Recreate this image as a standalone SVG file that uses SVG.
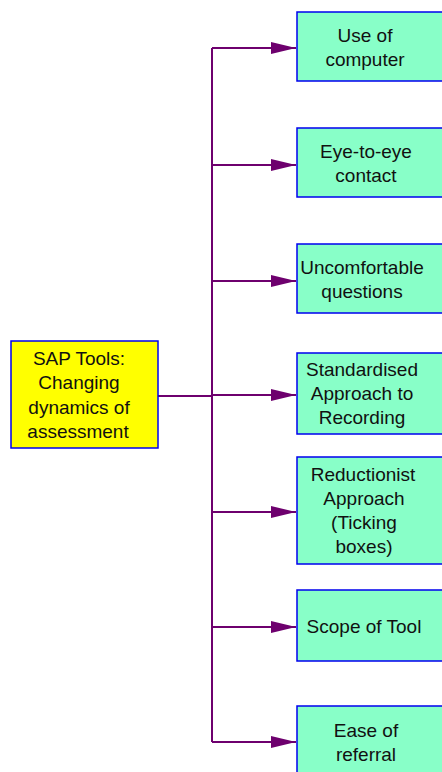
<svg xmlns="http://www.w3.org/2000/svg" width="442" height="772" viewBox="0 0 442 772">
<defs>
<style>
.box{fill:#88ffc8;stroke:#0000ee;stroke-width:1.5}
.main{fill:#ffff00;stroke:#0000ee;stroke-width:1.5}
.t{font-family:"Liberation Sans",Arial,sans-serif;font-size:19px;fill:#111;text-anchor:middle}
.c{stroke:#6e006e;stroke-width:2;fill:none}
</style>
<marker id="ah" markerUnits="userSpaceOnUse" markerWidth="26" markerHeight="14" refX="25" refY="6" orient="auto">
<path d="M0,0 L25,6 L0,12 Z" fill="#6e006e"/>
</marker>
</defs>
<g id="connectors">
<path class="c" d="M158,396 H212"/>
<path class="c" d="M212,48 V742"/>
<path class="c" d="M212,48 H296" marker-end="url(#ah)"/>
<path class="c" d="M212,165 H296" marker-end="url(#ah)"/>
<path class="c" d="M212,281 H296" marker-end="url(#ah)"/>
<path class="c" d="M212,395 H296" marker-end="url(#ah)"/>
<path class="c" d="M212,512 H296" marker-end="url(#ah)"/>
<path class="c" d="M212,627 H296" marker-end="url(#ah)"/>
<path class="c" d="M212,742 H296" marker-end="url(#ah)"/>
</g>
<g id="main">
<rect class="main" x="11" y="341" width="147" height="107"/>
<text class="t" x="79" y="365">SAP Tools:</text>
<text class="t" x="79" y="389">Changing</text>
<text class="t" x="79" y="414">dynamics of</text>
<text class="t" x="78" y="438">assessment</text>
</g>
<g id="n1">
<rect class="box" x="297" y="12" width="150" height="69"/>
<text class="t" x="365" y="42">Use of</text>
<text class="t" x="365" y="66">computer</text>
</g>
<g id="n2">
<rect class="box" x="297" y="128" width="150" height="69"/>
<text class="t" x="366" y="158">Eye-to-eye</text>
<text class="t" x="366" y="182">contact</text>
</g>
<g id="n3">
<rect class="box" x="297" y="244" width="150" height="69"/>
<text class="t" x="362" y="274">Uncomfortable</text>
<text class="t" x="362" y="298">questions</text>
</g>
<g id="n4">
<rect class="box" x="297" y="353" width="150" height="81"/>
<text class="t" x="362" y="376">Standardised</text>
<text class="t" x="362" y="400">Approach to</text>
<text class="t" x="362" y="424">Recording</text>
</g>
<g id="n5">
<rect class="box" x="297" y="457" width="150" height="107"/>
<text class="t" x="363" y="481">Reductionist</text>
<text class="t" x="364" y="505">Approach</text>
<text class="t" x="364" y="529">(Ticking</text>
<text class="t" x="364" y="553">boxes)</text>
</g>
<g id="n6">
<rect class="box" x="297" y="590" width="150" height="71"/>
<text class="t" x="364" y="633">Scope of Tool</text>
</g>
<g id="n7">
<rect class="box" x="297" y="706" width="150" height="70"/>
<text class="t" x="366" y="737">Ease of</text>
<text class="t" x="366" y="761">referral</text>
</g>
</svg>
